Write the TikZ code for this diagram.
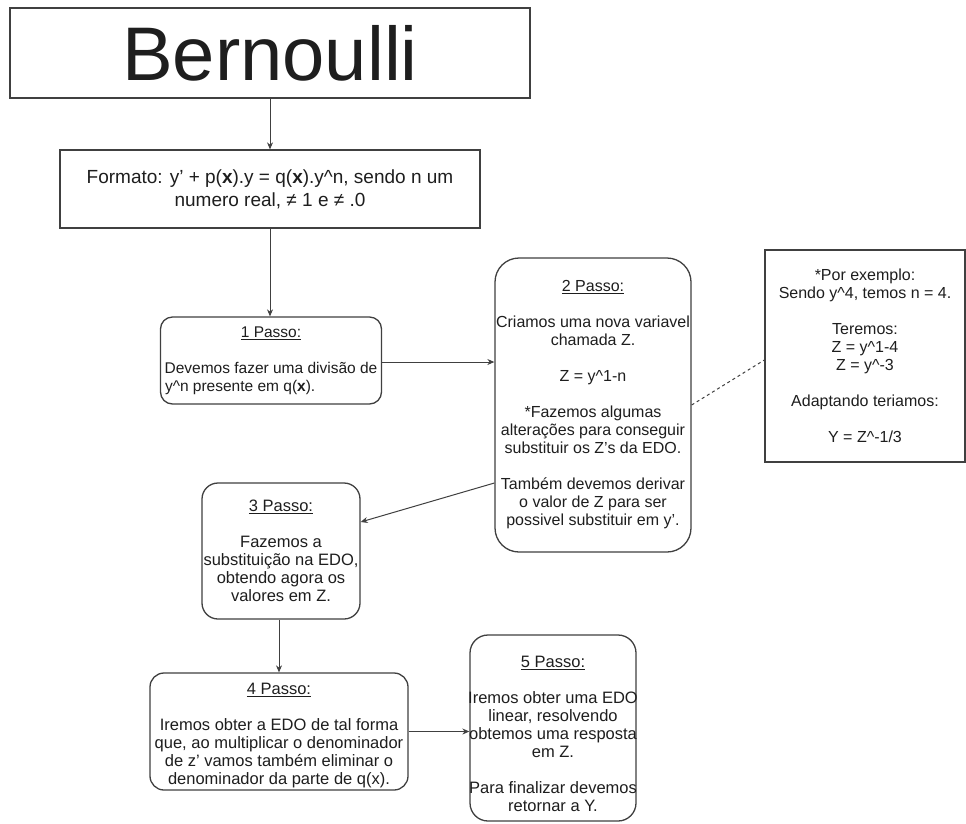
\documentclass[tikz,border=0pt]{standalone}
\usepackage{fontspec}
\setmainfont{Liberation Sans}
\usetikzlibrary{arrows.meta,calc}
\definecolor{edge}{HTML}{404040}
\definecolor{ink}{HTML}{1E1E1E}
\tikzset{
  box/.style={draw=edge,line width=1.3pt,fill=white,text=ink,align=center,inner sep=0pt},
  txt/.style={text=ink,align=center,inner sep=0pt},
  stepfont/.style={font=\fontsize{16}{18}\selectfont},
  bigstep/.style={font=\fontsize{16.5}{18}\selectfont},
  arr/.style={draw=edge,line width=1pt,-{Stealth[length=7pt,width=6pt]}},
  dash line/.style={draw=edge,line width=1pt,dash pattern=on 3pt off 3pt},
}
\begin{document}
\begin{tikzpicture}[x=1pt,y=-1pt]
\useasboundingbox[fill=white] (0,0) rectangle (966,823);

\node[box,minimum width=520pt,minimum height=90pt,font=\fontsize{76}{80}\selectfont] (title) at (270,53) {Bernoulli};

\node[box,minimum width=420pt,minimum height=78pt,font=\fontsize{19}{23}\selectfont] (form) at (270,189)
 {Formato: y' + p(\textbf{x}).y = q(\textbf{x}).y\^{}n, sendo n um\\ numero real, ≠ 1 e ≠ .0};

\node[box,rounded corners=12pt,minimum width=221pt,minimum height=87pt,font=\fontsize{15.5}{18}\selectfont] (p1) at (271,360.5)
 {\underline{1 Passo:}\\[18pt]Devemos fazer uma divisão de\\ \makebox[212pt][l]{y\^{}n presente em q(\textbf{x}).}};

\node[box,rounded corners=24pt,minimum width=196pt,minimum height=294pt,stepfont] (p2) at (593,405)
 {\underline{2 Passo:}\\[18pt]Criamos uma nova variavel\\ chamada Z.\\[18pt]Z = y\^{}1-n\\[18pt]*Fazemos algumas\\ alterações para conseguir\\ substituir os Z's da EDO.\\[18pt]Também devemos derivar\\ o valor de Z para ser\\ possivel substituir em y'.};

\node[box,minimum width=200pt,minimum height=212pt,stepfont] (ex) at (865,356)
 {*Por exemplo:\\ Sendo y\^{}4, temos n = 4.\\[18pt]Teremos:\\ Z = y\^{}1-4\\ Z = y\^{}-3\\[18pt]Adaptando teriamos:\\[18pt]Y = Z\^{}-1/3};

\node[box,rounded corners=16pt,minimum width=158pt,minimum height=136pt,bigstep] (p3) at (281,551)
 {\underline{3 Passo:}\\[18pt]Fazemos a\\ substituição na EDO,\\ obtendo agora os\\ valores em Z.};

\node[box,rounded corners=14pt,minimum width=258pt,minimum height=117pt] (p4) at (279,731.5) {};
\node[txt,bigstep] (p4t) at ($(p4.center)+(0,4)$)
 {\underline{4 Passo:}\\[18pt]Iremos obter a EDO de tal forma\\ que, ao multiplicar o denominador\\ de z' vamos também eliminar o\\ denominador da parte de q(x).};

\node[box,rounded corners=18pt,minimum width=166pt,minimum height=186pt] (p5) at (553,728) {};
\node[txt,bigstep] (p5t) at ($(p5.center)+(0,6)$)
 {\underline{5 Passo:}\\[18pt]Iremos obter uma EDO\\ linear, resolvendo\\ obtemos uma resposta\\ em Z.\\[18pt]Para finalizar devemos\\ retornar a Y.};

\draw[arr] (title.south) -- (form.north);
\draw[arr] (form.south) -- (form.south |- p1.north);
\draw[arr] (p1.east |- 0,362) -- (p2.west |- 0,362);
\draw[arr] (p2.west |- 0,483) -- (p3.east |- 0,522);
\draw[arr] (p4.north |- p3.south) -- (p4.north);
\draw[arr] (p4.east) -- (p5.west |- p4.east);
\draw[dash line] (p2.east |- 0,405) -- (ex.west |- 0,360);
\end{tikzpicture}
\end{document}
